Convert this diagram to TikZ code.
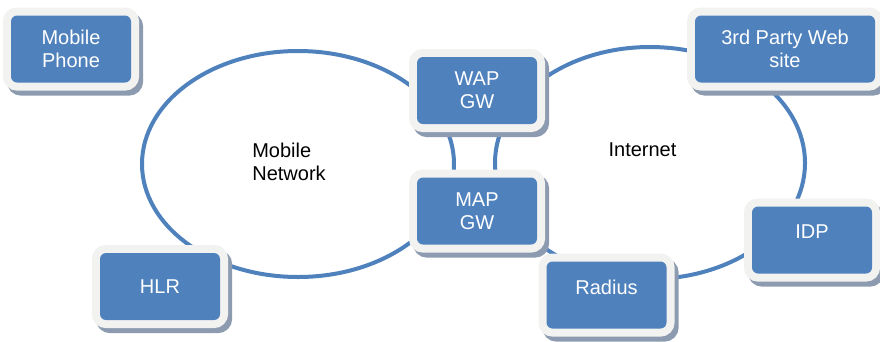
\documentclass[tikz,border=0pt]{standalone}
\usepackage{fontspec}
\setmainfont{Liberation Sans}
\definecolor{netblue}{RGB}{79,129,189}
\definecolor{framegray}{RGB}{242,242,240}
\definecolor{shadowgray}{RGB}{141,155,176}

\begin{document}
\begin{tikzpicture}[x=1pt,y=-1pt]
\tikzset{ring/.style={draw=netblue,line width=4pt}, lab/.style={align=left,font=\fontsize{20}{23}\selectfont},
  unit/.style={fill=netblue,rounded corners=6pt,minimum width=120pt,minimum height=67pt,inner sep=2pt,align=center,
    text=white,font=\fontsize{20}{23}\selectfont,
    preaction={draw=shadowgray,fill=shadowgray,line width=16pt,transform canvas={shift={(4pt,-5pt)}}},
    preaction={draw=framegray,fill=framegray,line width=16pt}},
  high/.style={text depth=16pt}}
\useasboundingbox (0,0) rectangle (880,341);
% the two networks
\draw[ring] (298,164) ellipse [x radius=156, y radius=113];
\draw[ring] (650,163) ellipse [x radius=155, y radius=116];
\node[lab] (mobnet) at (289,162) {Mobile\\Network};
\node[lab] (inet) at (642.5,150) {Internet};
% elements
\node[unit] (phone) at (71,49) {Mobile\\Phone};
\node[unit] (wap) at (477,90.5) {WAP\\GW};
\node[unit] (map) at (477,211) {MAP\\GW};
\node[unit] (hlr) at (160,286.5) {HLR};
\node[unit,high] (radius) at (606.5,295) {Radius};
\node[unit,minimum width=180pt] (web) at (785,49) {3rd Party Web\\site};
\node[unit,high] (idp) at (812,240) {IDP};
\end{tikzpicture}
\end{document}
